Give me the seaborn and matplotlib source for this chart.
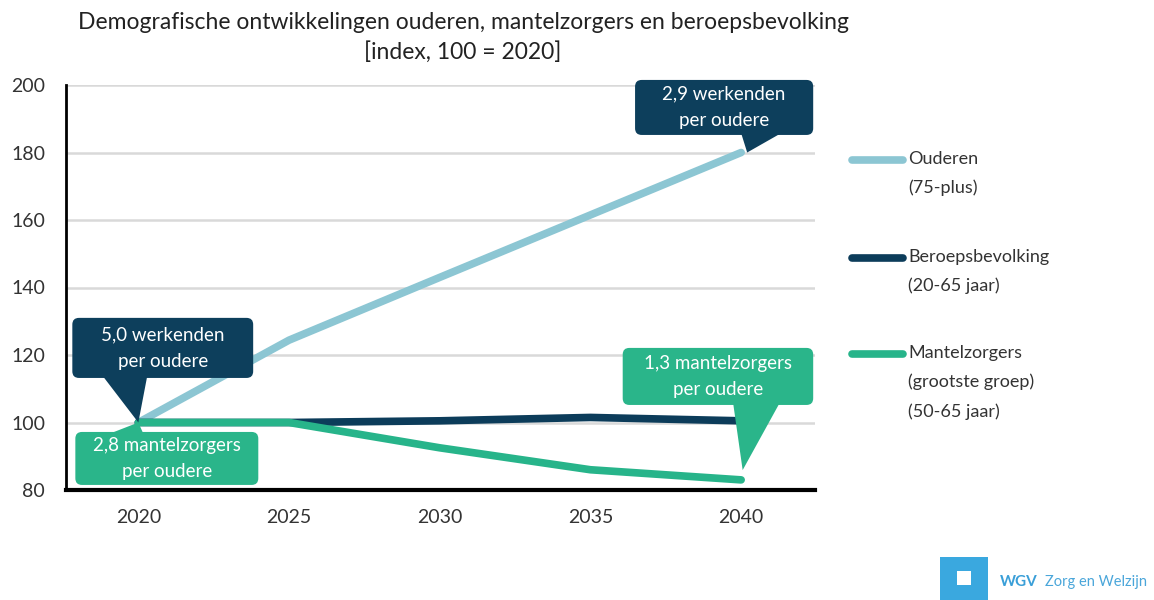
import numpy as np
import pandas as pd
import seaborn as sns
import matplotlib.pyplot as plt
from matplotlib.patches import FancyBboxPatch, Polygon, Rectangle
from matplotlib.lines import Line2D

# Data (index, 100 = 2020)
years = [2020, 2025, 2030, 2035, 2040]
ouderen = [100, 124.4, 143, 161.5, 180]
beroepsbevolking = [100, 100, 100.5, 101.5, 100.5]
mantelzorgers = [100, 100, 92.5, 86, 83]

series_names = ["Ouderen", "Beroepsbevolking", "Mantelzorgers"]
legend_labels = ["Ouderen\n(75-plus)",
                 "Beroepsbevolking\n(20-65 jaar)",
                 "Mantelzorgers\n(grootste groep)\n(50-65 jaar)"]
colors = ["#8cc6d3", "#0c3c5a", "#27b48a"]

callout_texts = ["5,0 werkenden\nper oudere",
                 "2,8 mantelzorgers\nper oudere",
                 "2,9 werkenden\nper oudere",
                 "1,3 mantelzorgers\nper oudere"]

title = "Demografische ontwikkelingen ouderen, mantelzorgers en beroepsbevolking\n[index, 100 = 2020]"

df = pd.DataFrame({
    "jaar": years * 3,
    "index": ouderen + beroepsbevolking + mantelzorgers,
    "groep": [series_names[0]] * 5 + [series_names[1]] * 5 + [series_names[2]] * 5,
})

sns.set_style("white")
plt.rcParams['font.family'] = ['Lato', 'DejaVu Sans']

fig = plt.figure(figsize=(11.54, 6.0), dpi=100)
ax = fig.add_axes([66 / 1154, 1 - 490 / 600, (815 - 66) / 1154, (490 - 85) / 600])

sns.lineplot(data=df, x="jaar", y="index", hue="groep", hue_order=series_names,
             palette=colors, linewidth=5.5, legend=False, ax=ax, zorder=3)
for ln in ax.lines:
    ln.set_solid_capstyle("round")
    ln.set_solid_joinstyle("round")

ax.set_xlim(2017.6, 2042.45)
ax.set_ylim(80, 200)
ax.set_xticks(years)
ax.set_yticks(range(80, 201, 20))
ax.set_xlabel("")
ax.set_ylabel("")
ax.yaxis.grid(True, color="#d9d9d9", lw=1.8)
ax.set_axisbelow(True)
for s in ["top", "right"]:
    ax.spines[s].set_visible(False)
ax.spines["left"].set_linewidth(2)
ax.spines["bottom"].set_linewidth(3)
ax.spines["left"].set_color("black")
ax.spines["bottom"].set_color("black")
ax.tick_params(axis="y", length=0, pad=15, labelsize=14, labelcolor="#333333")
ax.tick_params(axis="x", length=0, pad=14, labelsize=14, labelcolor="#333333")

# callouts
asp = (30.15) / 3.375


def callout(text, x0, x1, y0, y1, base_y, bx0, bx1, tip, color):
    box = FancyBboxPatch((x0, y0), x1 - x0, y1 - y0,
                         boxstyle="round,pad=0,rounding_size=0.22",
                         mutation_aspect=asp, fc=color, ec="none",
                         zorder=5, clip_on=False)
    ax.add_patch(box)
    tail = Polygon([(bx0, base_y), (bx1, base_y), tip], closed=True,
                   fc=color, ec="none", zorder=5, clip_on=False)
    ax.add_patch(tail)
    ax.text((x0 + x1) / 2, (y0 + y1) / 2, text, ha="center", va="center",
            color="white", fontsize=13.5, linespacing=1.7, zorder=6, clip_on=False)


dark = "#0d3f5c"
green = "#2ab58a"
callout(callout_texts[0], 2017.81, 2023.81, 113.2, 131.0, 114, 2018.8, 2020.3, (2020, 100), dark)
callout(callout_texts[1], 2017.91, 2023.98, 81.5, 97.2, 96, 2018.85, 2020.2, (2020, 100), green)
callout(callout_texts[2], 2036.48, 2042.39, 185.2, 201.5, 186, 2039.99, 2041.38, (2040.2, 180), dark)
callout(callout_texts[3], 2036.07, 2042.39, 105.2, 122.1, 106, 2039.73, 2041.29, (2040.05, 85.9), green)

# title
fig.text(463 / 1154, 1 - 37 / 600, title, ha="center", va="center",
         fontsize=16.5, color="#222222", linespacing=1.45)

# legend drawn next to the plot
legend_y = [160, 258, 354]
for lab, col, yy in zip(legend_labels, colors, legend_y):
    yf = 1 - yy / 600
    fig.add_artist(Line2D([852 / 1154, 903 / 1154], [yf, yf], color=col, lw=5.5,
                          solid_capstyle="round", transform=fig.transFigure))
    fig.text(908 / 1154, 1 - (yy - 9) / 600, lab, ha="left", va="top",
             fontsize=13, color="#333333", linespacing=1.95)

# WGV logo
fig.add_artist(Rectangle((940 / 1154, 0), 48 / 1154, 43 / 600, fc="#3aa8df", ec="none",
                         transform=fig.transFigure))
fig.add_artist(Rectangle((957 / 1154, 15 / 600), 14 / 1154, 14 / 600, fc="white", ec="none",
                         transform=fig.transFigure))
fig.text(1000 / 1154, 1 - 582 / 600, "WGV", ha="left", va="center", fontsize=11,
         fontweight="bold", color="#3a9fd8")
fig.text(1045 / 1154, 1 - 582 / 600, "Zorg en Welzijn", ha="left", va="center",
         fontsize=10.5, color="#4aa6da")

fig.savefig("out.png", dpi=100, facecolor="white")
